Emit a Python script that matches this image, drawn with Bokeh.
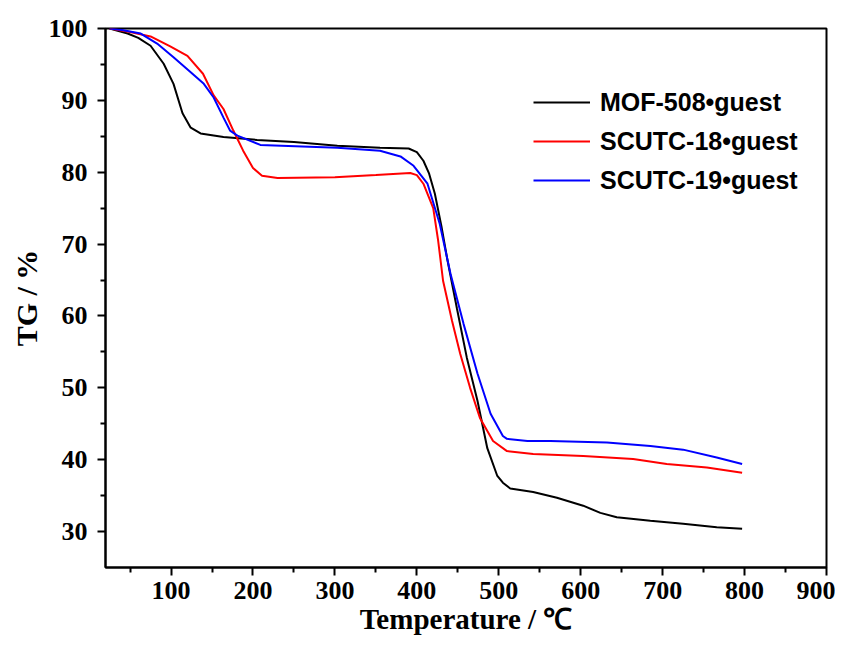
from bokeh.plotting import figure
from bokeh.models import FixedTicker, Range1d, Legend, LegendItem
from bokeh.embed import file_html
from bokeh.resources import INLINE

# MOF-508•guest
t_mof = [25, 47, 60, 75, 91, 103, 114, 124, 136, 164, 205, 250, 303, 355, 390, 400, 408, 415, 422, 430, 437, 449, 461, 474, 486, 498, 505, 514, 542, 571, 603, 624, 644, 685, 725, 766, 797]
tg_mof = [100, 99.3, 98.7, 97.6, 95.1, 92.3, 88.2, 86.2, 85.4, 84.9, 84.5, 84.2, 83.7, 83.4, 83.3, 82.8, 81.6, 79.8, 77, 72.5, 68, 61, 54.2, 48.2, 41.6, 37.8, 36.8, 36, 35.5, 34.7, 33.6, 32.6, 32, 31.5, 31.1, 30.6, 30.4]

# SCUTC-18•guest
t_s18 = [25, 50, 75, 99, 120, 139, 152, 164, 176, 188, 200, 211, 230, 300, 350, 392, 400, 408, 420, 426, 432, 443, 453, 465, 477, 493, 510, 542, 603, 664, 705, 754, 797]
tg_s18 = [100, 99.5, 98.9, 97.5, 96.2, 93.7, 90.7, 88.8, 85.8, 83, 80.6, 79.5, 79.2, 79.3, 79.6, 79.9, 79.6, 78.4, 75, 70.5, 64.9, 59.3, 54.7, 50, 45.8, 42.6, 41.2, 40.8, 40.5, 40.1, 39.4, 38.9, 38.2]

# SCUTC-19•guest
t_s19 = [25, 40, 63, 83, 103, 124, 140, 152, 164, 172, 181, 209, 303, 355, 380, 396, 413, 428, 441, 457, 474, 490, 505, 510, 535, 563, 632, 685, 725, 766, 797]
tg_s19 = [100, 99.8, 99.3, 97.9, 96, 93.9, 92.3, 90.4, 87.6, 85.8, 85.1, 83.8, 83.4, 83, 82.2, 80.9, 78.4, 72.8, 65.9, 58.9, 52, 46.4, 43.3, 42.9, 42.6, 42.6, 42.4, 41.9, 41.4, 40.3, 39.4]

series_names = ["MOF-508\u2022guest", "SCUTC-18\u2022guest", "SCUTC-19\u2022guest"]
series_colors = ["#000000", "#ff0000", "#0000ff"]

x_major = [100, 200, 300, 400, 500, 600, 700, 800, 900]
x_minor = [50, 150, 250, 350, 450, 550, 650, 750, 850]
y_major = [30, 40, 50, 60, 70, 80, 90, 100]
y_minor = [35, 45, 55, 65, 75, 85, 95]

p = figure(width=835, height=641, output_backend="svg", toolbar_location=None,
           x_range=Range1d(20, 900), y_range=Range1d(25, 100),
           min_border_left=105, min_border_right=9, min_border_top=28, min_border_bottom=74)
p.frame_width = 721
p.frame_height = 539

renderers = []
for xs, ys, c in zip([t_mof, t_s18, t_s19], [tg_mof, tg_s18, tg_s19], series_colors):
    r = p.line(xs, ys, line_color=c, line_width=2)
    renderers.append(r)

p.xgrid.visible = False
p.ygrid.visible = False
p.outline_line_color = "black"
p.outline_line_width = 2
p.background_fill_color = "white"
p.border_fill_color = "white"

p.xaxis.ticker = FixedTicker(ticks=x_major, minor_ticks=x_minor)
p.yaxis.ticker = FixedTicker(ticks=y_major, minor_ticks=y_minor)

for ax in [p.xaxis[0], p.yaxis[0]]:
    ax.axis_line_width = 2
    ax.axis_line_color = "black"
    ax.major_tick_line_width = 2
    ax.minor_tick_line_width = 2
    ax.major_tick_out = 8
    ax.major_tick_in = 0
    ax.minor_tick_out = 5
    ax.minor_tick_in = 0
    ax.major_label_text_font = "Liberation Serif"
    ax.major_label_text_font_style = "bold"
    ax.major_label_text_font_size = "26px"
    ax.major_label_text_color = "black"
    ax.axis_label_text_font = "Liberation Serif"
    ax.axis_label_text_font_style = "bold"
    ax.axis_label_text_color = "black"

p.xaxis.axis_label = "Temperature / \u2103"
p.yaxis.axis_label = "TG / %"
p.xaxis.axis_label_text_font_size = "29px"
p.yaxis.axis_label_text_font_size = "30px"
p.xaxis.major_label_standoff = 6
p.yaxis.major_label_standoff = 10
p.xaxis.axis_label_standoff = 1
p.yaxis.axis_label_standoff = 3

legend = Legend(items=[LegendItem(label=n, renderers=[r]) for n, r in zip(series_names, renderers)],
                location=(428, 372))
legend.glyph_width = 57
legend.glyph_height = 30
legend.spacing = 9
legend.label_standoff = 10
legend.padding = 0
legend.margin = 0
legend.border_line_color = None
legend.background_fill_alpha = 0
legend.label_text_font = "Liberation Sans"
legend.label_text_font_style = "bold"
legend.label_text_font_size = "25px"
legend.label_text_color = "black"
p.add_layout(legend)

open("out.html", "w").write(file_html(p, INLINE))
